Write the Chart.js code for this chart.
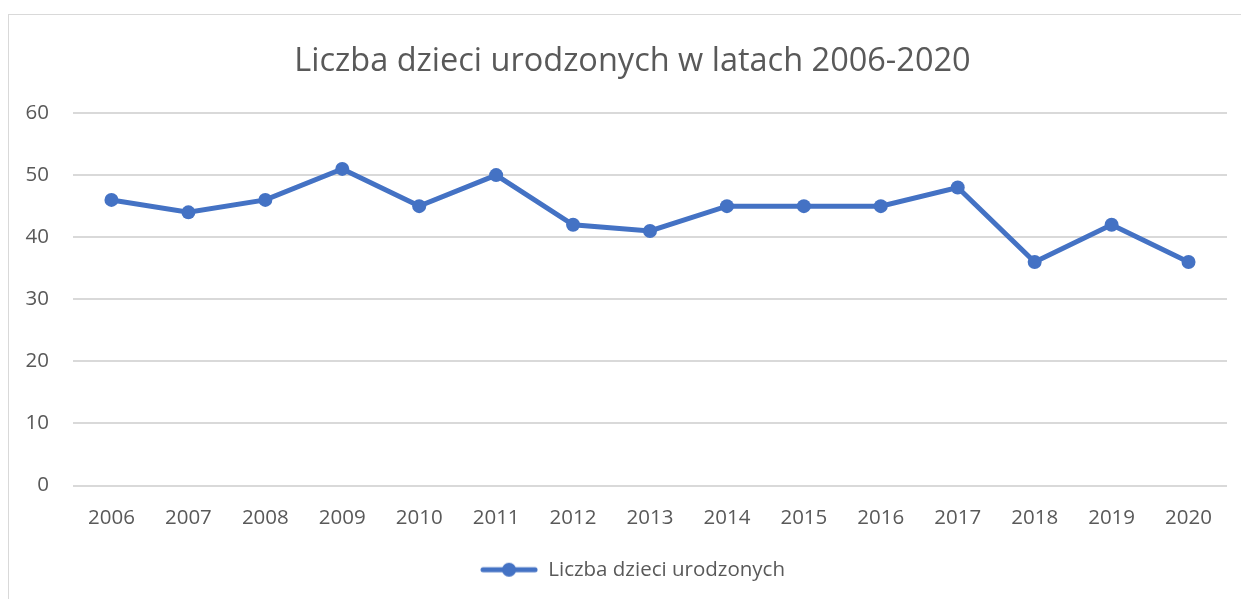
<!DOCTYPE html>
<html>
<head>
<meta charset="utf-8">
<script src="https://cdn.jsdelivr.net/npm/chart.js@4.4.0/dist/chart.umd.min.js"></script>
<style>
  html, body { margin: 0; padding: 0; background: #fff; overflow: hidden; }
  #wrap { position: relative; width: 1241px; height: 599px; }
  #frame { position: absolute; left: 8px; top: 14px; width: 1260px; height: 620px; border: 1px solid #d9d9d9; box-sizing: border-box; }
  canvas { position: absolute; left: 0; top: 0; }
</style>
</head>
<body>
<div id="wrap">
  <div id="frame"></div>
  <canvas id="lineChart" width="1241" height="599"></canvas>
</div>
<script>
const years = ['2006', '2007', '2008', '2009', '2010', '2011', '2012', '2013', '2014', '2015', '2016', '2017', '2018', '2019', '2020'];
const births = [46, 44, 46, 51, 45, 50, 42, 41, 45, 45, 45, 48, 36, 42, 36];
const yTicks = [0, 10, 20, 30, 40, 50, 60];

const blue = '#4472C4';
const grey = '#595959';
const fontFamily = '"Open Sans", "Liberation Sans", sans-serif';

// legend marker: line with dot in the middle
const marker = document.createElement('canvas');
marker.width = 58;
marker.height = 18;
const mctx = marker.getContext('2d');
mctx.strokeStyle = blue;
mctx.lineWidth = 5;
mctx.lineCap = 'round';
mctx.beginPath();
mctx.moveTo(3, 9);
mctx.lineTo(55, 9);
mctx.stroke();
mctx.fillStyle = blue;
mctx.beginPath();
mctx.arc(29, 9, 7, 0, Math.PI * 2);
mctx.fill();

const ctx = document.getElementById('lineChart');
new Chart(ctx, {
  type: 'line',
  data: {
    labels: years,
    datasets: [{
      label: 'Liczba dzieci urodzonych',
      data: births,
      borderColor: blue,
      backgroundColor: blue,
      borderWidth: 5,
      pointRadius: 7,
      pointHoverRadius: 7,
      pointBorderWidth: 0,
      pointStyle: 'circle',
      tension: 0,
      fill: false,
    }],
  },
  options: {
    responsive: false,
    animation: false,
    layout: {
      padding: { left: 24, right: 0, top: 0, bottom: 9 },
    },
    plugins: {
      tooltip: { enabled: false },
      title: {
        display: true,
        text: 'Liczba dzieci urodzonych w latach 2006-2020',
        color: grey,
        font: { family: fontFamily, size: 32.5, weight: 'normal' },
        padding: { top: 42, bottom: 32 },
      },
      legend: {
        position: 'bottom',
        labels: {
          color: grey,
          font: { family: fontFamily, size: 20.5 },
          usePointStyle: true,
          pointStyle: marker,
          pointStyleWidth: 58,
          boxHeight: 18,
          padding: 10,
        },
      },
    },
    scales: {
      x: {
        offset: true,
        grid: { display: false, drawTicks: false },
        border: { display: false },
        ticks: {
          color: grey,
          font: { family: fontFamily, size: 20.5 },
          padding: 20,
          maxRotation: 0,
        },
        afterFit: (scale) => { scale.height = 64; },
      },
      y: {
        min: 0,
        max: 60,
        afterBuildTicks: (scale) => { scale.ticks = yTicks.map((v) => ({ value: v })); },
        grid: { color: '#d9d9d9', lineWidth: 2, drawTicks: false },
        border: { display: false },
        ticks: {
          color: grey,
          font: { family: fontFamily, size: 20.5 },
          padding: 24,
        },
        afterFit: (scale) => { scale.width = 49; },
      },
      // empty spacer on the right so the title and legend centre like the original
      spacer: {
        type: 'linear',
        position: 'right',
        grid: { display: false, drawTicks: false },
        border: { display: false },
        ticks: { display: false },
        afterFit: (scale) => { scale.width = 14; },
      },
    },
  },
});
</script>
</body>
</html>
